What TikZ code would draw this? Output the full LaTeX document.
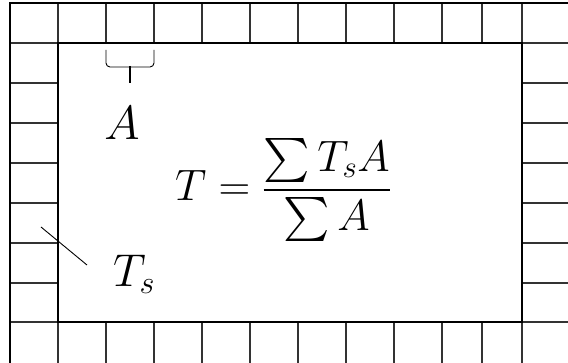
\RequirePackage{fix-cm}
\documentclass[tikz,border=0pt]{standalone}
\DeclareFontFamily{OMX}{cmex}{}
\DeclareFontShape{OMX}{cmex}{m}{n}{<->cmex10}{}
\usetikzlibrary{positioning,calc}

\begin{document}
\begin{tikzpicture}[
    x=1pt, y=-1pt,
    cell/.style={draw=black!80, line width=1.1pt},
    frame/.style={draw, line width=2.2pt},
    pointer/.style={draw, line width=0.9pt},
    lbl/.style={inner sep=0pt, font=\fontsize{46}{50}\selectfont}
]
    \useasboundingbox (0,0) rectangle (568,363);

    % border cells
    \foreach \x in {58,106,...,442,482,522}
        \draw[cell] (\x,3) -- (\x,43) (\x,322) -- (\x,363);
    \foreach \y in {83,123,...,283}
        \draw[cell] (10,\y) -- (58,\y) (522,\y) -- (568,\y);
    \draw[cell] (10,43) -- (568,43) (10,322) -- (568,322);

    \draw[frame] (10,363) -- (10,3) -- (568,3);
    \draw[frame] (58,43) rectangle (522,322);

    \node[lbl, font=\fontsize{48}{52}\selectfont] (areaA) at (122,123) {$A$};
    \node[lbl] (tempTs) at (134,274) {$T_s$};
    \node[lbl, font=\fontsize{44}{50}\selectfont] (formula) at (283,190)
        {$\displaystyle T = \frac{\sum T_s A}{\sum A}$};

    \coordinate (braceL) at (106,50);
    \coordinate (braceR) at (154,50);
    \coordinate (braceTip) at (130,83);
    \draw[pointer, rounded corners=4pt] (braceL) |- (130,67) -| (braceR);
    \draw[pointer, line width=1.4pt] (130,66) -- (braceTip);

    \coordinate (wallPt) at (41,227);
    \coordinate (wallEnd) at (87,265);
    \draw[pointer] (wallPt) -- (wallEnd);
\end{tikzpicture}
\end{document}
